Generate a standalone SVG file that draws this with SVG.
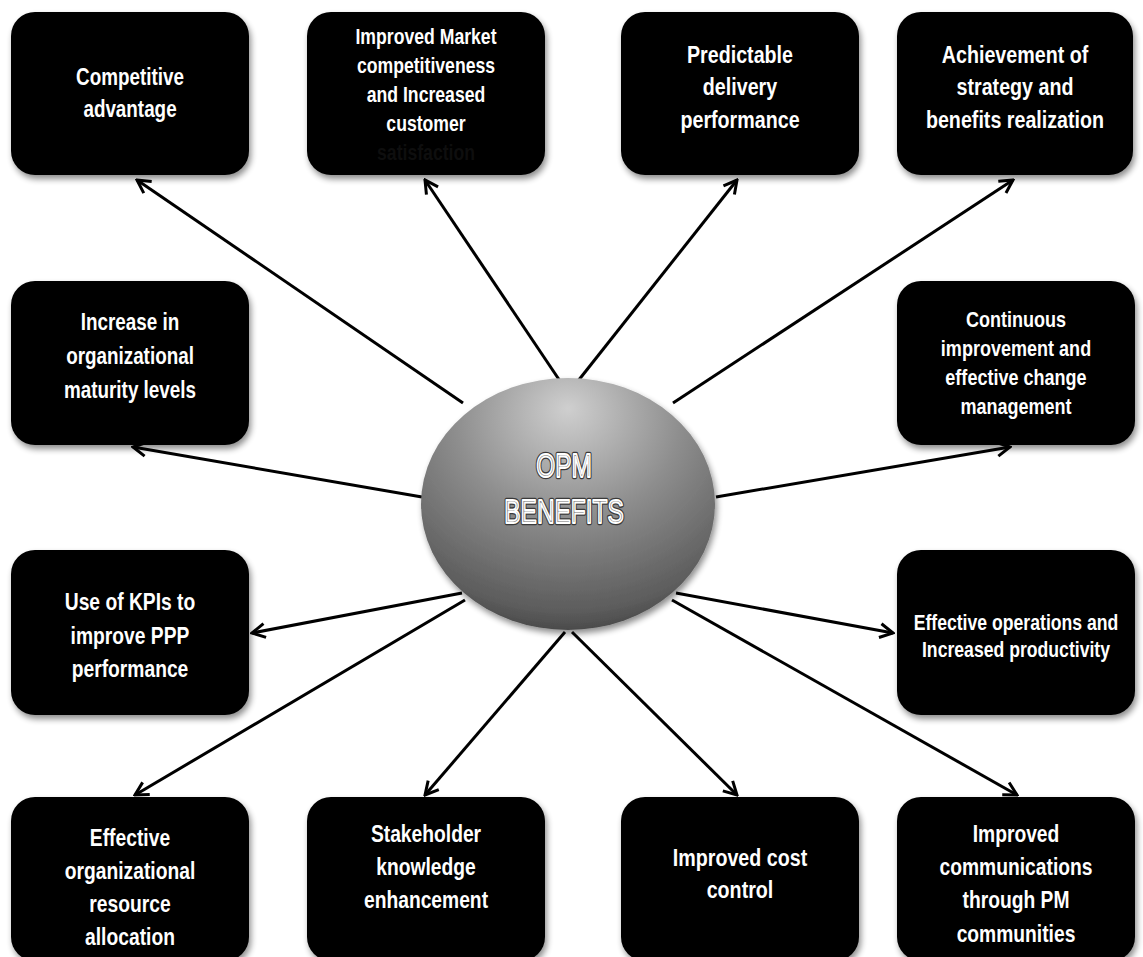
<svg xmlns="http://www.w3.org/2000/svg" width="1143" height="957" viewBox="0 0 1143 957">
  <defs>
    <filter id="shadow" x="-10%" y="-10%" width="125%" height="130%">
      <feGaussianBlur in="SourceAlpha" stdDeviation="3"/>
      <feOffset dx="2" dy="4" result="b"/>
      <feComponentTransfer><feFuncA type="linear" slope="0.45"/></feComponentTransfer>
      <feMerge><feMergeNode/><feMergeNode in="SourceGraphic"/></feMerge>
    </filter>
    <radialGradient id="sphere" cx="0.5" cy="0.22" r="0.85" fx="0.5" fy="0.12">
      <stop offset="0" stop-color="#cfcfcf"/>
      <stop offset="0.45" stop-color="#8e8e8e"/>
      <stop offset="0.85" stop-color="#5c5c5c"/>
      <stop offset="1" stop-color="#3a3a3a"/>
    </radialGradient>
    <marker id="arrow" viewBox="0 0 18 18" refX="16" refY="9" markerWidth="18" markerHeight="18" markerUnits="userSpaceOnUse" orient="auto">
      <path d="M3,2 L16,9 L3,16" fill="none" stroke="#000" stroke-width="3" stroke-linejoin="miter"/>
    </marker>
    <style>
      .box { fill: #000; }
      .lbl { font-family: "Liberation Sans", Arial, sans-serif; font-weight: bold; fill: #fff; text-anchor: middle; }
      .conn { stroke: #000; stroke-width: 3; fill: none; marker-end: url(#arrow); }
      .core { font-family: "Liberation Sans", Arial, sans-serif; font-size: 33px; text-anchor: middle; }
      .core-edge { fill: none; stroke: #3a3a3a; stroke-width: 4.5; stroke-linejoin: round; }
      .core-face { fill: #8c8c8c; stroke: #fff; stroke-width: 1.8; stroke-linejoin: round; }
    </style>
  </defs>

  <rect width="1143" height="957" fill="#fff"/>

  <!-- spokes from the hub to each benefit -->
  <g id="connectors">
    <path class="conn" d="M463,403 L137,180"/>
    <path class="conn" d="M560,381 L425,180"/>
    <path class="conn" d="M578,381 L737,180"/>
    <path class="conn" d="M673,403 L1013,180"/>
    <path class="conn" d="M422,497 L133,447"/>
    <path class="conn" d="M716,497 L1010,447"/>
    <path class="conn" d="M462,593 L252,633"/>
    <path class="conn" d="M676,593 L893,633"/>
    <path class="conn" d="M465,600 L135,795"/>
    <path class="conn" d="M565,632 L425,795"/>
    <path class="conn" d="M572,632 L737,795"/>
    <path class="conn" d="M672,600 L1017,795"/>
  </g>

  <!-- hub -->
  <g id="hub">
    <ellipse cx="568" cy="504" rx="147" ry="126" fill="url(#sphere)" filter="url(#shadow)"/>
    <g transform="translate(564 0) scale(0.74 1)">
      <text class="core core-edge" x="0" y="477">OPM</text>
      <text class="core core-face" x="0" y="477">OPM</text>
      <text class="core core-edge" x="0" y="523">BENEFITS</text>
      <text class="core core-face" x="0" y="523">BENEFITS</text>
    </g>
  </g>

  <!-- top row -->
  <g id="competitive-advantage">
    <rect class="box" x="11" y="12" width="238" height="163" rx="24" filter="url(#shadow)"/>
    <g transform="translate(130 0) scale(0.82 1)" class="lbl" font-size="23">
      <text x="0" y="85">Competitive</text>
      <text x="0" y="117">advantage</text>
    </g>
  </g>
  <g id="market-competitiveness">
    <rect class="box" x="307" y="12" width="238" height="163" rx="24" filter="url(#shadow)"/>
    <g transform="translate(426 0) scale(0.82 1)" class="lbl" font-size="21.5">
      <text x="0" y="44">Improved Market</text>
      <text x="0" y="73">competitiveness</text>
      <text x="0" y="102">and Increased</text>
      <text x="0" y="131">customer</text>
      <text x="0" y="160" style="fill:#0e0e0e">satisfaction</text>
    </g>
  </g>
  <g id="predictable-delivery">
    <rect class="box" x="621" y="12" width="238" height="163" rx="24" filter="url(#shadow)"/>
    <g transform="translate(740 0) scale(0.82 1)" class="lbl" font-size="24">
      <text x="0" y="63">Predictable</text>
      <text x="0" y="95">delivery</text>
      <text x="0" y="128">performance</text>
    </g>
  </g>
  <g id="strategy-achievement">
    <rect class="box" x="897" y="12" width="236" height="163" rx="24" filter="url(#shadow)"/>
    <g transform="translate(1015 0) scale(0.82 1)" class="lbl" font-size="24">
      <text x="0" y="63">Achievement of</text>
      <text x="0" y="95">strategy and</text>
      <text x="0" y="128">benefits realization</text>
    </g>
  </g>

  <!-- second row -->
  <g id="maturity-levels">
    <rect class="box" x="11" y="281" width="238" height="164" rx="24" filter="url(#shadow)"/>
    <g transform="translate(130 0) scale(0.82 1)" class="lbl" font-size="23">
      <text x="0" y="330">Increase in</text>
      <text x="0" y="364">organizational</text>
      <text x="0" y="398">maturity levels</text>
    </g>
  </g>
  <g id="continuous-improvement">
    <rect class="box" x="897" y="281" width="238" height="164" rx="24" filter="url(#shadow)"/>
    <g transform="translate(1016 0) scale(0.82 1)" class="lbl" font-size="22">
      <text x="0" y="327">Continuous</text>
      <text x="0" y="356">improvement and</text>
      <text x="0" y="385">effective change</text>
      <text x="0" y="414">management</text>
    </g>
  </g>

  <!-- third row -->
  <g id="kpi-use">
    <rect class="box" x="11" y="550" width="238" height="165" rx="24" filter="url(#shadow)"/>
    <g transform="translate(130 0) scale(0.82 1)" class="lbl" font-size="23.5">
      <text x="0" y="610">Use of KPIs to</text>
      <text x="0" y="644">improve PPP</text>
      <text x="0" y="677">performance</text>
    </g>
  </g>
  <g id="effective-operations">
    <rect class="box" x="897" y="550" width="238" height="165" rx="24" filter="url(#shadow)"/>
    <g transform="translate(1016 0) scale(0.82 1)" class="lbl" font-size="21.5">
      <text x="0" y="630">Effective operations and</text>
      <text x="0" y="657">Increased productivity</text>
    </g>
  </g>

  <!-- bottom row -->
  <g id="resource-allocation">
    <rect class="box" x="11" y="797" width="238" height="164" rx="24" filter="url(#shadow)"/>
    <g transform="translate(130 0) scale(0.82 1)" class="lbl" font-size="23.5">
      <text x="0" y="846">Effective</text>
      <text x="0" y="879">organizational</text>
      <text x="0" y="912">resource</text>
      <text x="0" y="945">allocation</text>
    </g>
  </g>
  <g id="stakeholder-knowledge">
    <rect class="box" x="307" y="797" width="238" height="164" rx="24" filter="url(#shadow)"/>
    <g transform="translate(426 0) scale(0.82 1)" class="lbl" font-size="23.5">
      <text x="0" y="842">Stakeholder</text>
      <text x="0" y="875">knowledge</text>
      <text x="0" y="908">enhancement</text>
    </g>
  </g>
  <g id="cost-control">
    <rect class="box" x="621" y="797" width="238" height="164" rx="24" filter="url(#shadow)"/>
    <g transform="translate(740 0) scale(0.82 1)" class="lbl" font-size="24">
      <text x="0" y="866">Improved cost</text>
      <text x="0" y="898">control</text>
    </g>
  </g>
  <g id="pm-communications">
    <rect class="box" x="897" y="797" width="238" height="164" rx="24" filter="url(#shadow)"/>
    <g transform="translate(1016 0) scale(0.82 1)" class="lbl" font-size="23.5">
      <text x="0" y="842">Improved</text>
      <text x="0" y="875">communications</text>
      <text x="0" y="908">through PM</text>
      <text x="0" y="942">communities</text>
    </g>
  </g>
</svg>
